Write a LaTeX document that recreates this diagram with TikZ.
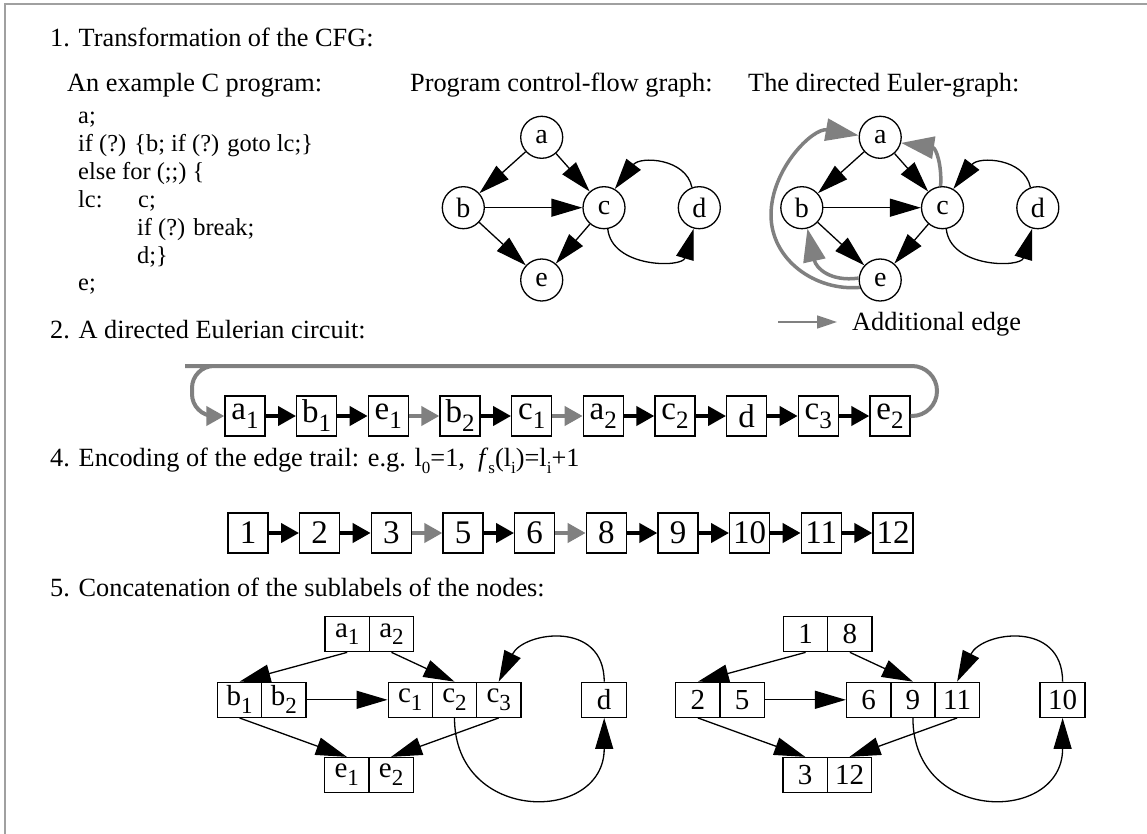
\documentclass[tikz,border=0pt]{standalone}
\usepackage{fontspec}
\setmainfont{Liberation Serif}
\usetikzlibrary{arrows.meta}
\definecolor{eg}{HTML}{808080}
\definecolor{bord}{HTML}{A0A0A0}
\newcommand{\lsb}[2][25]{\raisebox{-0.27em}{\fontsize{#1}{#1}\selectfont #2}}
\begin{document}
\begin{tikzpicture}[x=1pt,y=-1pt,
  txt/.style={anchor=base west,inner sep=0pt,font=\fontsize{26.3}{30}\selectfont},
  code/.style={anchor=base west,inner sep=0pt,font=\fontsize{24.4}{27}\selectfont},
  circ/.style={circle,draw,line width=1.3pt,minimum size=42pt,inner sep=0pt,font=\fontsize{28}{28}\selectfont},
  cbox/.style={draw,line width=1.3pt,minimum width=40pt,minimum height=40pt,inner sep=0pt,font=\fontsize{33}{33}\selectfont},
  rec/.style={draw,line width=1.3pt,minimum width=44.3pt,minimum height=35pt,inner sep=0pt,font=\fontsize{29}{29}\selectfont},
  big/.style={line width=1.3pt,-{Triangle[length=31pt,width=18pt]}},
  gbig/.style={eg,line width=3.5pt,-{Triangle[length=33pt,width=22pt]}},
  rowarr/.style={line width=4pt,-{Triangle[length=18pt,width=19pt]}},
  growarr/.style={eg,line width=4pt,-{Triangle[length=18pt,width=19pt]}},
  glegend/.style={eg,line width=1.5pt,-{Triangle[length=20pt,width=13pt]}}
]
\useasboundingbox (0,0) rectangle (1147,834);
\fill[white] (0,0) rectangle (1147,834);
\draw[bord,line width=2pt] (5,834) -- (5,4) -- (1147,4);

% headings
\node[txt] (t1) at (50,47) {1. Transformation of the CFG:};
\node[txt] (t1a) at (67,92) {An example C program:};
\node[txt] (t1b) at (410,92) {Program control-flow graph:};
\node[txt] (t1c) at (748,92) {The directed Euler-graph:};

% code
\node[code] (k1) at (78,124) {a;};
\node[code] (k2) at (78,151.8) {if (?) \{b; if (?) goto lc;\}};
\node[code] (k3) at (78,179.6) {else for (;;) \{};
\node[code] (k4) at (78,207.4) {lc:};
\node[code] (k4b) at (138,207.4) {c;};
\node[code] (k5) at (137,235.2) {if (?) break;};
\node[code] (k6) at (137,263) {d;\}};
\node[code] (k7) at (78,290.8) {e;};

% CFG
\node[circ] (a) at (541.7,137.3) {a};
\node[circ] (b) at (463.3,207.7) {b};
\node[circ] (c) at (604,207.7) {c};
\node[circ] (d) at (699.3,207.7) {d};
\node[circ] (e) at (541.7,280) {e};
\draw[big] (a) -- (b);
\draw[big] (a) -- (c);
\draw[big] (b) -- (c);
\draw[big] (b) -- (e);
\draw[big] (c) -- (e);
\draw[big] (c.-80) .. controls (612,268) and (682,268) .. (d.-105);
\draw[big] (d.110) .. controls (686,158) and (640,156) .. (c.60);

% Euler graph
\node[circ] (ea) at (880.2,137.3) {a};
\node[circ] (eb) at (801.8,207.7) {b};
\node[circ] (ec) at (942.5,207.7) {c};
\node[circ] (ed) at (1037.8,207.7) {d};
\node[circ] (ee) at (880.2,280) {e};
\draw[gbig] (ee.200) to[out=185,in=270] (771,215) to[out=90,in=170] (ea.175);
\draw[gbig] (ee.175) .. controls (830,282) and (816,268) .. (eb.-75);
\draw[gbig] (ec.95) .. controls (942,165) and (936,148) .. (ea.-15);
\draw[big] (ea) -- (eb);
\draw[big] (ea) -- (ec);
\draw[big] (eb) -- (ec);
\draw[big] (eb) -- (ee);
\draw[big] (ec) -- (ee);
\draw[big] (ec.-80) .. controls (950.5,268) and (1020.5,268) .. (ed.-105);
\draw[big] (ed.110) .. controls (1024.5,158) and (978.5,156) .. (ec.60);

% legend
\coordinate (l1) at (778,322);
\coordinate (l2) at (837,322);
\draw[glegend] (l1) -- (l2);
\node[txt] (leg) at (852,330) {Additional edge};

% 2. circuit
\node[txt] (t2) at (50,338) {2. A directed Eulerian circuit:};
\node[cbox] (r1) at (245,416) {a\lsb{1}};
\node[cbox] (r2) at (316.7,416) {b\lsb{1}};
\node[cbox] (r3) at (388.3,416) {e\lsb{1}};
\node[cbox] (r4) at (460,416) {b\lsb{2}};
\node[cbox] (r5) at (531.7,416) {c\lsb{1}};
\node[cbox] (r6) at (603.3,416) {a\lsb{2}};
\node[cbox] (r7) at (675,416) {c\lsb{2}};
\node[cbox] (r8) at (746.7,416) {d};
\node[cbox] (r9) at (818.3,416) {c\lsb{3}};
\node[cbox] (r10) at (890,416) {e\lsb{2}};
\draw[rowarr] (r1) -- (r2);
\draw[rowarr] (r2) -- (r3);
\draw[growarr] (r3) -- (r4);
\draw[rowarr] (r4) -- (r5);
\draw[growarr] (r5) -- (r6);
\draw[rowarr] (r6) -- (r7);
\draw[rowarr] (r7) -- (r8);
\draw[rowarr] (r8) -- (r9);
\draw[rowarr] (r9) -- (r10);
\draw[eg,line width=4pt,rounded corners=25pt,-{Triangle[length=18pt,width=19pt]}]
  (r10.east) -- (937,416) -- (937,366) -- (210,366) [rounded corners=22pt] -- (192,366) -- (192,416) -- (r1.west);

% 4. encoding
\node[txt] (t4) at (50,466) {4. Encoding of the edge trail: e.g. l\lsb[17]{0}=1,~~\textit{f}\lsb[17]{s}(l\lsb[17]{i})=l\lsb[17]{i}+1};
\node[cbox] (n1) at (248,533) {1};
\node[cbox] (n2) at (319.7,533) {2};
\node[cbox] (n3) at (391.3,533) {3};
\node[cbox] (n4) at (463,533) {5};
\node[cbox] (n5) at (534.7,533) {6};
\node[cbox] (n6) at (606.3,533) {8};
\node[cbox] (n7) at (678,533) {9};
\node[cbox] (n8) at (749.7,533) {10};
\node[cbox] (n9) at (821.3,533) {11};
\node[cbox] (n10) at (893,533) {12};
\draw[rowarr] (n1) -- (n2);
\draw[rowarr] (n2) -- (n3);
\draw[growarr] (n3) -- (n4);
\draw[rowarr] (n4) -- (n5);
\draw[growarr] (n5) -- (n6);
\draw[rowarr] (n6) -- (n7);
\draw[rowarr] (n7) -- (n8);
\draw[rowarr] (n8) -- (n9);
\draw[rowarr] (n9) -- (n10);

% 5. concatenation
\node[txt] (t5) at (50,596) {5. Concatenation of the sublabels of the nodes:};

% left record graph
\node[rec] (A1) at (347.2,634.2) {a\lsb[23]{1}};
\node[rec] (A2) at (391.5,634.2) {a\lsb[23]{2}};
\node[rec] (B1) at (239.5,699.8) {b\lsb[23]{1}};
\node[rec] (B2) at (283.8,699.8) {b\lsb[23]{2}};
\node[rec] (C1) at (410.3,699.8) {c\lsb[23]{1}};
\node[rec] (C2) at (454.5,699.8) {c\lsb[23]{2}};
\node[rec] (C3) at (498.7,699.8) {c\lsb[23]{3}};
\node[rec,minimum width=45pt] (D) at (604.2,699.8) {d};
\node[rec] (E1) at (346.8,775) {e\lsb[23]{1}};
\node[rec] (E2) at (391.1,775) {e\lsb[23]{2}};
\draw[big] (A1.south) -- (B1.north);
\draw[big] (A2.south) -- (C2.north);
\draw[big] (B2.east) -- (C1.west);
\draw[big] (B1.south) -- (E1.north);
\draw[big] (C3.south) -- (E2.north);
\draw[big] (C2.south) .. controls +(0,106) and +(0,106) .. (D.south);
\draw[big] (D.north) .. controls +(0,-62) and +(25,-50) .. (C3.north);

% right record graph
\node[rec] (P1) at (805.6,634.2) {1};
\node[rec] (P2) at (849.9,634.2) {8};
\node[rec] (Q1) at (697.9,699.8) {2};
\node[rec] (Q2) at (742.2,699.8) {5};
\node[rec] (R1) at (868.7,699.8) {6};
\node[rec] (R2) at (912.9,699.8) {9};
\node[rec] (R3) at (957.1,699.8) {11};
\node[rec,minimum width=45pt] (S) at (1062.6,699.8) {10};
\node[rec] (T1) at (805.2,775) {3};
\node[rec] (T2) at (849.5,775) {12};
\draw[big] (P1.south) -- (Q1.north);
\draw[big] (P2.south) -- (R2.north);
\draw[big] (Q2.east) -- (R1.west);
\draw[big] (Q1.south) -- (T1.north);
\draw[big] (R3.south) -- (T2.north);
\draw[big] (R2.south) .. controls +(0,106) and +(0,106) .. (S.south);
\draw[big] (S.north) .. controls +(0,-62) and +(25,-50) .. (R3.north);
\end{tikzpicture}
\end{document}
